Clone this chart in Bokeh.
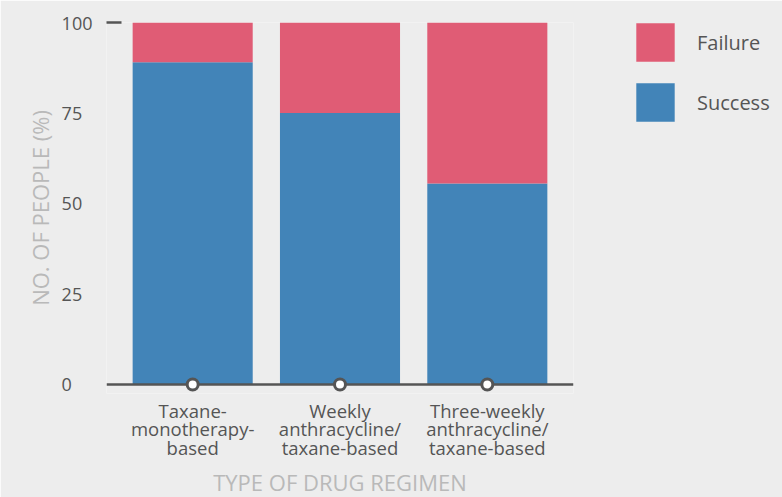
from bokeh.plotting import figure
from bokeh.models import (FactorRange, Range1d, LinearAxis, CategoricalAxis, FixedTicker,
                          Span, Legend, LegendItem, ColumnDataSource)
from bokeh.embed import file_html
from bokeh.resources import INLINE

categories = ["Taxane-\nmonotherapy-\nbased", "Weekly\nanthracycline/\ntaxane-based",
              "Three-weekly\nanthracycline/\ntaxane-based"]
success = [89, 75, 55.5]
failure = [11, 25, 44.5]
y_ticks = [0, 25, 50, 75, 100]
y_tick_labels = ["0", "25", "50", "75", "100"]
series = ["Success", "Failure"]
colors = ["#4284b8", "#e05c75"]

BG = "#ededed"
FONT = "Open Sans"
DARK = "#555555"
LIGHT = "#b9b9b9"
FIG_SPACE = "\u2007"

source = ColumnDataSource(dict(cat=categories, Success=success, Failure=failure,
                               zero=[0] * len(categories)))

p = figure(width=782, height=497, frame_width=467, frame_height=371,
           output_backend="svg", toolbar_location=None,
           x_range=FactorRange(*categories, range_padding=0.085, range_padding_units="absolute"),
           y_range=Range1d(-2.5, 100),
           x_axis_location=None, y_axis_location=None,
           min_border_left=106, min_border_right=209, min_border_top=22, min_border_bottom=104,
           background_fill_color=BG, border_fill_color=BG, outline_line_color=None)
p.grid.visible = False

rs = p.vbar_stack(series, x="cat", width=0.815, color=colors, source=source, line_color=None)

span = Span(location=0, dimension="width", line_color=DARK, line_width=2.5)
p.add_layout(span)

circ = p.scatter(x="cat", y="zero", source=source, size=11, fill_color="white",
                 line_color=DARK, line_width=3)
circ.level = "overlay"

# tick-only axis (dash at 100)
tick_axis = LinearAxis(ticker=FixedTicker(ticks=[100]), axis_line_color=None,
                       major_tick_in=15, major_tick_out=0, major_tick_line_color=DARK,
                       major_tick_line_width=2.5, minor_tick_line_color=None,
                       major_label_overrides={100: ""}, major_label_standoff=0)
p.add_layout(tick_axis, "left")

width_max = max(len(s) for s in y_tick_labels)
overrides = {t: s + FIG_SPACE * (width_max - len(s)) for t, s in zip(y_ticks, y_tick_labels)}
yaxis = LinearAxis(ticker=FixedTicker(ticks=y_ticks), axis_line_color=None,
                   major_tick_line_color=None, minor_tick_line_color=None,
                   major_label_overrides=overrides,
                   major_label_text_font=FONT, major_label_text_font_size="18px",
                   major_label_text_color=DARK, major_label_standoff=8,
                   axis_label="NO. OF PEOPLE (%)", axis_label_text_font=FONT,
                   axis_label_text_font_size="22px", axis_label_text_font_style="normal",
                   axis_label_text_color=LIGHT, axis_label_standoff=4)
p.add_layout(yaxis, "left")

xaxis = CategoricalAxis(axis_line_color=None, major_tick_line_color=None,
                        minor_tick_line_color=None,
                        major_label_text_font=FONT, major_label_text_font_size="18.5px",
                        major_label_text_line_height=0.74,
                        major_label_text_color=DARK, major_label_standoff=-2,
                        axis_label="TYPE OF DRUG REGIMEN", axis_label_text_font=FONT,
                        axis_label_text_font_size="22px", axis_label_text_font_style="normal",
                        axis_label_text_color=LIGHT, axis_label_standoff=4)
p.add_layout(xaxis, "below")

legend = Legend(items=[LegendItem(label="Failure", renderers=[rs[1]]),
                       LegendItem(label="Success", renderers=[rs[0]])],
                location=(58, 267), glyph_width=48, glyph_height=48,
                label_standoff=18, spacing=12, padding=0, margin=0,
                border_line_color=None, background_fill_alpha=0,
                label_text_font=FONT, label_text_font_size="20px", label_text_color=DARK)
p.add_layout(legend, "right")

open("out.html", "w").write(file_html(p, INLINE))
